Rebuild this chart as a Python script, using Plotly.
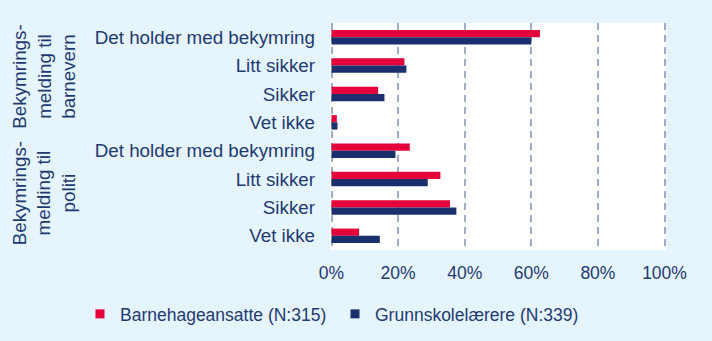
import plotly.graph_objects as go

# Survey answers, two groups of four response categories each
group_names = ["Bekymrings-<br>melding til<br>barnevern", "Bekymrings-<br>melding til<br>politi"]
answers = ["Det holder med bekymring", "Litt sikker", "Sikker", "Vet ikke"]
category_ids = [f"{g}|{a}" for g in ("barnevern", "politi") for a in answers]
category_labels = answers + answers

series_names = ["Barnehageansatte (N:315)", "Grunnskolelærere (N:339)"]
barnehage = [62.6, 21.9, 14.0, 1.6, 23.5, 32.7, 35.6, 8.3]
grunnskole = [60.0, 22.5, 15.9, 1.8, 19.2, 28.9, 37.5, 14.5]

x_ticks = [0, 20, 40, 60, 80, 100]
x_tick_labels = [f"{v}%" for v in x_ticks]

RED = "#E4003B"
NAVY = "#1C2F6D"
TEXT = "#1F3A72"
BG = "#E6F4FD"
GRID = "#9FABC8"
FONT = "Arial, Liberation Sans, sans-serif"

fig = go.Figure()
for name, vals, col in [(series_names[0], barnehage, RED), (series_names[1], grunnskole, NAVY)]:
    fig.add_trace(go.Bar(
        y=category_ids, x=vals, orientation="h", name=name,
        marker=dict(color=col, line=dict(width=0)), showlegend=False,
    ))
# Small square legend keys
for name, col in [(series_names[0], RED), (series_names[1], NAVY)]:
    fig.add_trace(go.Scatter(
        x=[None], y=[None], mode="markers", name=name,
        marker=dict(symbol="square", size=9, color=col),
    ))

W, H = 712, 341
# axis range padded a little so the 0% and 100% gridlines are kept
X_PAD = 0.45
x0_px, x100_px = 331.5, 664.5
px_per_unit = (x100_px - x0_px) / 100
L = x0_px - X_PAD * px_per_unit
R = W - (x100_px + X_PAD * px_per_unit)
T, B = 23, 91
pw, ph = W - L - R, H - T - B

def px_x(x):
    return (x - L) / pw

def px_y(y):
    return (H - B - y) / ph

fig.update_layout(
    width=W, height=H,
    margin=dict(l=L, r=R, t=T, b=B, pad=0, autoexpand=False),
    paper_bgcolor=BG, plot_bgcolor="white",
    barmode="group", bargap=0.49, bargroupgap=0,
    font=dict(family=FONT, color=TEXT, size=17.5),
    showlegend=True,
    legend=dict(
        orientation="h", x=px_x(80), xanchor="left", y=px_y(314), yanchor="middle",
        font=dict(size=17.5, color=TEXT), bgcolor="rgba(0,0,0,0)",
        entrywidth=210, entrywidthmode="pixels", itemclick=False,
    ),
    xaxis=dict(
        range=[-X_PAD, 100 + X_PAD], tickmode="array", tickvals=x_ticks, ticktext=x_tick_labels,
        showgrid=True, gridcolor=GRID, griddash="7px,5px", gridwidth=1.5,
        zeroline=False, showline=False, ticks="", ticklabelstandoff=10,
        tickfont=dict(size=17.5, color=TEXT),
    ),
    yaxis=dict(
        type="category", categoryorder="array", categoryarray=category_ids,
        tickmode="array", tickvals=category_ids, ticktext=category_labels,
        autorange="reversed", showgrid=False, zeroline=False, showline=False,
        ticks="", ticklabelstandoff=14, tickfont=dict(size=18.8, color=TEXT),
    ),
)

# Rotated group titles left of the category labels
for name, yc in zip(group_names, [76.7, 193.3]):
    fig.add_annotation(
        text=name, textangle=-90, xref="paper", yref="paper",
        x=px_x(44), y=px_y(yc), xanchor="center", yanchor="middle",
        showarrow=False, align="center",
        font=dict(size=18.8, color=TEXT, family=FONT),
    )

fig.write_html("out.html")
